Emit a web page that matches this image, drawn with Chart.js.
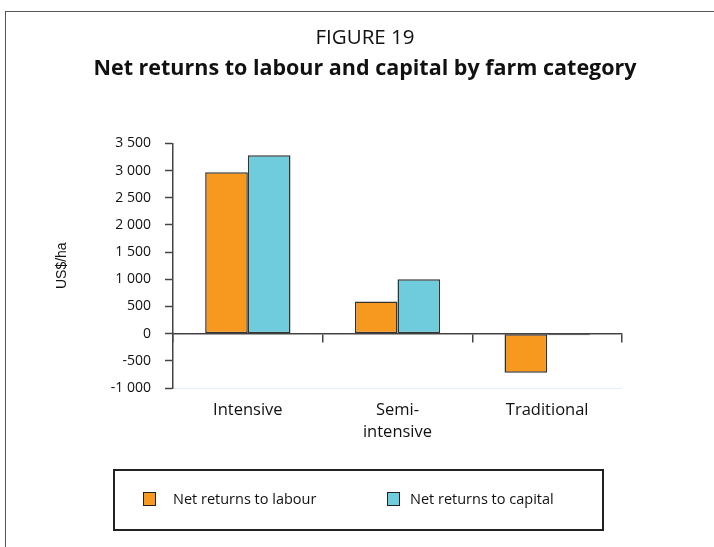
<!DOCTYPE html>
<html>
<head>
<meta charset="utf-8">
<script src="https://cdn.jsdelivr.net/npm/chart.js@4"></script>
<style>
  body { margin: 0; background: #fff; }
  #wrap { position: relative; width: 714px; height: 547px; overflow: hidden; }
  #frame { position: absolute; left: 5px; top: 11px; width: 800px; height: 600px;
           border-left: 1px solid #555; border-top: 1px solid #555; }
  #chart { position: absolute; left: 0; top: 0; }
  #legend { position: absolute; left: 113px; top: 469px; width: 487px; height: 58px;
            border: 2px solid #222; font: 14.5px "Open Sans", sans-serif; color: #111; }
  .item { position: absolute; top: 18px; display: flex; align-items: center; }
  .sw { width: 11px; height: 12px; border: 1px solid #222; }
</style>
</head>
<body>
<div id="wrap">
  <div id="frame"></div>
  <canvas id="chart" width="714" height="547"></canvas>
  <div id="legend"></div>
</div>
<script>
const categories = ["Intensive", ["Semi-", "intensive"], "Traditional"];
const seriesNames = ["Net returns to labour", "Net returns to capital"];
const labourValues = [2970, 590, -720];
const capitalValues = [3280, 1000, -30];
const seriesColors = ["#f7991e", "#6fccdc"];
const yTicks = [-1000, -500, 0, 500, 1000, 1500, 2000, 2500, 3000, 3500];

function fmt(v) {
  const s = Math.abs(v) >= 1000
    ? Math.floor(Math.abs(v) / 1000) + " " + String(Math.abs(v) % 1000).padStart(3, "0")
    : String(Math.abs(v));
  return (v < 0 ? "-" : "") + s;
}

// html legend
const legend = document.getElementById("legend");
[[28, 17], [272, 10]].forEach(([left, gap], i) => {
  const it = document.createElement("div");
  it.className = "item";
  it.style.left = left + "px";
  it.innerHTML = `<span class="sw" style="background:${seriesColors[i]};margin-right:${gap}px"></span>${seriesNames[i]}`;
  legend.appendChild(it);
});

new Chart(document.getElementById("chart"), {
  type: "bar",
  data: {
    labels: categories,
    datasets: [
      { label: seriesNames[0], data: labourValues, backgroundColor: seriesColors[0] },
      { label: seriesNames[1], data: capitalValues, backgroundColor: seriesColors[1] }
    ].map(d => Object.assign(d, {
      borderColor: "#333", borderWidth: 1.5, borderSkipped: false,
      categoryPercentage: 0.57, barPercentage: 1, xAxisID: "x", yAxisID: "y"
    }))
  },
  options: {
    responsive: false,
    animation: false,
    layout: { padding: { left: 16, right: 0, top: 0, bottom: 99 } },
    plugins: {
      legend: { display: false },
      tooltip: { enabled: false },
      title: {
        display: true, text: "FIGURE 19", color: "#111",
        font: { family: "Open Sans", size: 20.5, weight: "normal" },
        padding: { top: 26, bottom: 2 }
      },
      subtitle: {
        display: true, text: "Net returns to labour and capital by farm category", color: "#111",
        font: { family: "Open Sans", size: 21.5, weight: "bold" },
        padding: { top: 3, bottom: 62 }
      }
    },
    scales: {
      x: {
        type: "category",
        position: "bottom",
        border: { display: false },
        grid: { display: false, drawTicks: false },
        ticks: { color: "#111", padding: 12, font: { family: "Open Sans", size: 16.5, lineHeight: 1.3 } },
        afterFit: s => { s.height = 60; }
      },
      x0: {
        type: "category",
        labels: categories,
        position: { y: 0 },
        offset: true,
        border: { display: true, color: "#444", width: 1.5 },
        grid: { offset: true, drawOnChartArea: false, tickLength: 8, color: "#444", lineWidth: 1.5 },
        ticks: { display: false }
      },
      y: {
        min: -1000, max: 3500,
        afterBuildTicks: s => { s.ticks = yTicks.map(v => ({ value: v })); },
        border: { display: true, color: "#444", width: 1.5 },
        grid: {
          drawOnChartArea: true, tickLength: 8, tickColor: "#444", tickWidth: 1.5,
          color: c => c.tick && c.tick.value === -1000 ? "#e4f1f8" : "rgba(0,0,0,0)"
        },
        ticks: {
          color: "#111", padding: 14, font: { family: "Open Sans", size: 14 },
          callback: v => fmt(v)
        },
        title: {
          display: true, text: "US$/ha", color: "#111",
          font: { family: "Liberation Sans", size: 14 },
          padding: { top: 38, bottom: 0 }
        },
        afterFit: s => { s.width = 157; }
      },
      // empty right-hand scale that only reserves the space right of the plot
      yr: {
        position: "right",
        display: true,
        border: { display: false },
        grid: { display: false },
        ticks: { display: false },
        afterFit: s => { s.width = 92; }
      }
    }
  }
});
</script>
</body>
</html>
